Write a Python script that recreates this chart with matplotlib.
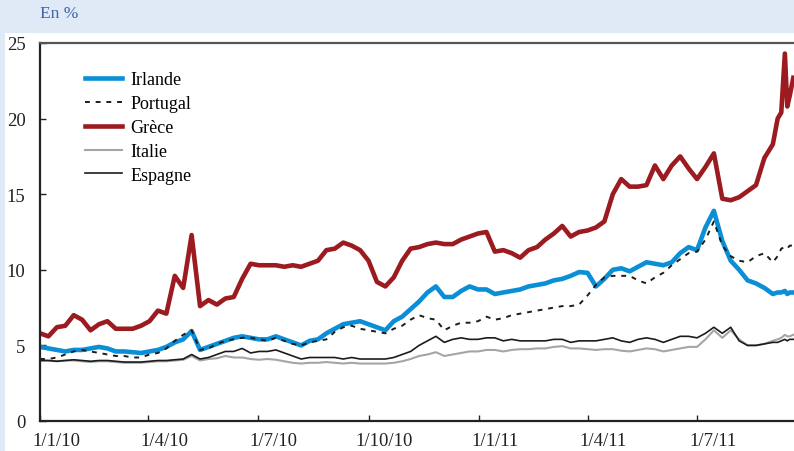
import pandas as pd
import matplotlib
matplotlib.use("Agg")
import matplotlib.pyplot as plt
from matplotlib.patches import Rectangle
from matplotlib.lines import Line2D
from matplotlib.transforms import ScaledTranslation
import matplotlib.ticker as mticker
import matplotlib.dates as mdates

plt.rcParams['font.family'] = ['Liberation Serif', 'DejaVu Serif']

# weekly observations, then the last days of the sample
dates = list(pd.date_range("2010-01-01", "2011-09-02", freq="7D")) + \
    list(pd.to_datetime(["2011-09-06", "2011-09-09", "2011-09-12",
                         "2011-09-14", "2011-09-16", "2011-09-19"]))

irlande = [4.9, 4.8, 4.7, 4.6, 4.7, 4.7, 4.8, 4.9, 4.8, 4.6,
           4.6, 4.55, 4.5, 4.6, 4.7, 4.9, 5.2, 5.4, 5.95, 4.7,
           4.9, 5.1, 5.3, 5.5, 5.6, 5.5, 5.4, 5.4, 5.6, 5.4,
           5.2, 5.0, 5.3, 5.4, 5.8, 6.1, 6.4, 6.5, 6.6, 6.4,
           6.2, 6.0, 6.6, 6.9, 7.4, 7.9, 8.5, 8.9, 8.2, 8.2,
           8.6, 8.9, 8.7, 8.7, 8.4, 8.5, 8.6, 8.7, 8.9, 9.0,
           9.1, 9.3, 9.4, 9.6, 9.85, 9.8, 8.9, 9.4, 10.0, 10.1,
           9.9, 10.2, 10.5, 10.4, 10.3, 10.5, 11.1, 11.5, 11.3, 12.8,
           13.9, 11.9, 10.6, 10.0, 9.3, 9.1, 8.8, 8.4,
           8.5, 8.5, 8.6, 8.4, 8.5, 8.5]

portugal = [4.1, 4.1, 4.2, 4.4, 4.6, 4.7, 4.6, 4.5, 4.4, 4.3,
            4.3, 4.2, 4.2, 4.4, 4.5, 4.8, 5.3, 5.7, 6.0, 4.7,
            4.8, 5.1, 5.3, 5.4, 5.5, 5.5, 5.4, 5.3, 5.5, 5.3,
            5.1, 5.0, 5.2, 5.3, 5.4, 5.9, 6.2, 6.3, 6.1, 6.0,
            5.9, 5.8, 6.1, 6.3, 6.7, 7.0, 6.8, 6.7, 6.0, 6.3,
            6.5, 6.5, 6.6, 6.9, 6.7, 6.8, 7.0, 7.1, 7.2, 7.3,
            7.4, 7.5, 7.6, 7.6, 7.7, 8.3, 9.0, 9.5, 9.6, 9.6,
            9.6, 9.3, 9.1, 9.5, 9.8, 10.3, 10.7, 11.1, 11.2, 12.0,
            13.2, 11.6, 10.9, 10.6, 10.5, 10.9, 11.1, 10.5,
            10.9, 11.4, 11.5, 11.4, 11.6, 11.6]

grece = [5.8, 5.6, 6.2, 6.3, 7.0, 6.7, 6.0, 6.4, 6.6, 6.1,
         6.1, 6.1, 6.3, 6.6, 7.3, 7.1, 9.6, 8.8, 12.3, 7.6,
         8.0, 7.7, 8.1, 8.2, 9.4, 10.4, 10.3, 10.3, 10.3, 10.2,
         10.3, 10.2, 10.4, 10.6, 11.3, 11.4, 11.8, 11.6, 11.3, 10.6,
         9.2, 8.9, 9.5, 10.6, 11.4, 11.5, 11.7, 11.8, 11.7, 11.7,
         12.0, 12.2, 12.4, 12.5, 11.2, 11.3, 11.1, 10.8, 11.3, 11.5,
         12.0, 12.4, 12.9, 12.2, 12.5, 12.6, 12.8, 13.2, 15.0, 16.0,
         15.5, 15.5, 15.6, 16.9, 16.0, 16.9, 17.5, 16.7, 16.0, 16.8,
         17.7, 14.7, 14.6, 14.8, 15.2, 15.6, 17.4, 18.3,
         20.0, 20.4, 24.3, 20.8, 21.5, 22.7]

italie = [4.0, 4.0, 3.95, 4.0, 4.0, 3.95, 3.9, 3.95, 3.95, 3.9,
          3.85, 3.85, 3.85, 3.9, 3.95, 3.95, 4.0, 4.05, 4.3, 4.0,
          4.1, 4.15, 4.3, 4.2, 4.2, 4.1, 4.05, 4.1, 4.05, 3.95,
          3.85, 3.8, 3.85, 3.85, 3.9, 3.85, 3.8, 3.85, 3.8, 3.8,
          3.8, 3.8, 3.85, 3.95, 4.1, 4.3, 4.4, 4.55, 4.3, 4.4,
          4.5, 4.6, 4.6, 4.7, 4.7, 4.6, 4.7, 4.75, 4.75, 4.8,
          4.8, 4.9, 4.95, 4.8, 4.8, 4.75, 4.7, 4.75, 4.75, 4.65,
          4.6, 4.7, 4.8, 4.75, 4.6, 4.7, 4.8, 4.9, 4.9, 5.4,
          6.0, 5.5, 6.0, 5.4, 5.0, 5.0, 5.1, 5.3,
          5.4, 5.5, 5.7, 5.6, 5.6, 5.7]

espagne = [4.0, 4.0, 3.95, 4.0, 4.05, 4.0, 3.95, 4.0, 4.0, 3.95,
           3.9, 3.9, 3.9, 3.95, 4.0, 4.0, 4.05, 4.1, 4.4, 4.1,
           4.2, 4.4, 4.6, 4.6, 4.8, 4.5, 4.6, 4.6, 4.7, 4.5,
           4.3, 4.1, 4.2, 4.2, 4.2, 4.2, 4.1, 4.2, 4.1, 4.1,
           4.1, 4.1, 4.2, 4.4, 4.6, 5.0, 5.3, 5.6, 5.2, 5.4,
           5.5, 5.4, 5.4, 5.5, 5.5, 5.3, 5.4, 5.3, 5.3, 5.3,
           5.3, 5.4, 5.4, 5.2, 5.3, 5.3, 5.3, 5.4, 5.5, 5.3,
           5.2, 5.4, 5.5, 5.4, 5.2, 5.4, 5.6, 5.6, 5.5, 5.8,
           6.2, 5.8, 6.2, 5.3, 5.0, 5.0, 5.1, 5.2,
           5.2, 5.3, 5.4, 5.3, 5.4, 5.4]

tick_dates = pd.to_datetime(["2010-01-01", "2010-04-01", "2010-07-01", "2010-10-01",
                             "2011-01-01", "2011-04-01", "2011-07-01"])

fig = plt.figure(figsize=(7.94, 4.52), dpi=100, facecolor="#dfeaf6")
fig.patches.append(Rectangle((5 / 794, 0), 1, 418 / 452, transform=fig.transFigure,
                             facecolor="white", edgecolor="none", zorder=-10))
fig.text(40 / 794, 1 - 14 / 452, "En %", color="#3f62ad", fontsize=12.5, va="center")

ax = fig.add_axes([40 / 794, 30 / 452, 754 / 794, 378 / 452], zorder=5)
ax.set_facecolor("white")

blue = "#0a8fd6"
red = "#9b1b20"
grey = "#a3a6a9"
black = "#1c1c1c"

ax.plot(dates, grece, color=red, lw=3.3, solid_joinstyle="round")
ax.plot(dates, irlande, color=blue, lw=3.3, solid_joinstyle="round")
ax.plot(dates, italie, color=grey, lw=1.5)
ax.plot(dates, espagne, color=black, lw=1.2)
ax.plot(dates, portugal, color=black, lw=1.4, ls=(0, (2.5, 3)))

ax.set_ylim(0, 25)
ax.set_xlim(pd.Timestamp("2010-01-01"), pd.Timestamp("2011-09-19 14:00"))
ax.set_yticks([0, 5, 10, 15, 20, 25])
ax.set_xticks(tick_dates)
ax.xaxis.set_major_formatter(mticker.FuncFormatter(
    lambda v, p: "{0}/{1}/{2}".format(mdates.num2date(v).day, mdates.num2date(v).month,
                                      mdates.num2date(v).strftime("%y"))))
ax.tick_params(direction="in", length=4, width=1, colors="#222222", labelsize=13.5)
ax.tick_params(axis="y", pad=10.5)
ax.tick_params(axis="x", pad=8)

# date labels sit a little to the right of their ticks
shift = ScaledTranslation(16 / 100, 0, fig.dpi_scale_trans)
for lab in ax.get_xticklabels():
    lab.set_transform(lab.get_transform() + shift)

ax.spines["right"].set_visible(False)
for s in ["left", "bottom"]:
    ax.spines[s].set_linewidth(1.6)
    ax.spines[s].set_color("#222222")
ax.spines["top"].set_linewidth(1.6)
ax.spines["top"].set_color("#555555")

handles = [Line2D([], [], color=blue, lw=3.3),
           Line2D([], [], color=black, lw=1.4, ls=(0, (2.5, 3))),
           Line2D([], [], color=red, lw=3.3),
           Line2D([], [], color=grey, lw=1.5),
           Line2D([], [], color=black, lw=1.2)]
labels = ["Irlande", "Portugal", "Grèce", "Italie", "Espagne"]
ax.legend(handles, labels, loc="upper left", bbox_to_anchor=(0.0385, 0.968), frameon=False,
          fontsize=13, handlelength=2.05, handletextpad=0.44, labelspacing=0.38)

fig.savefig("out.png", dpi=100, facecolor=fig.get_facecolor())
